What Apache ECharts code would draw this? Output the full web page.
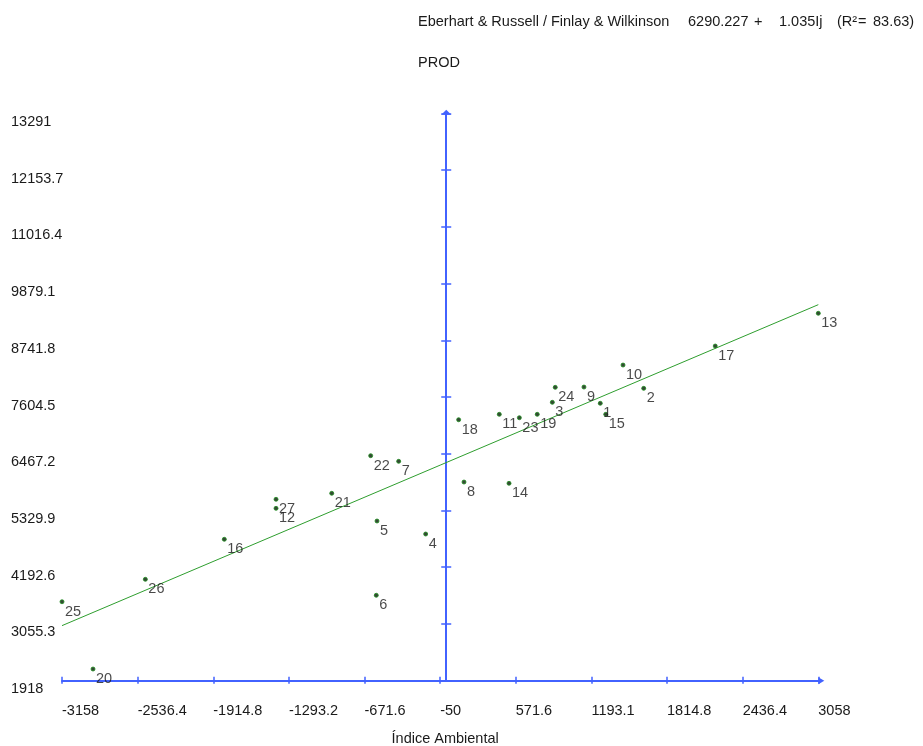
<!DOCTYPE html>
<html>
<head>
<meta charset="utf-8">
<script src="https://cdn.jsdelivr.net/npm/echarts@6/dist/echarts.min.js"></script>
<style>
html,body{margin:0;padding:0;background:#fff;}
#chart{width:923px;height:746px;}
</style>
</head>
<body>
<div id="chart"></div>
<script>
// Genotype / environment ids
const ids = ['1','2','3','4','5','6','7','8','9','10','11','12','13','14','15','16','17','18','19','20','21','22','23','24','25','26','27'];
// Environmental index (x)
const indexValues = [1266,1623,872,-169,-569,-575,-391,146,1132,1453,436,-1399,3058,516,1311,-1824,2211,102,748,-2903,-941,-621,601,896,-3158,-2473,-1399];
// PROD (y)
const prodValues = [7478,7778,7498,4858,5119,3630,6315,5900,7804,8245,7257,5373,9282,5874,7257,4752,8626,7149,7257,2152,5674,6428,7189,7798,3501,3950,5554];
// Regression line end points (6290.227 + 1.035 Ij)
const lineX = [-3158, 3058];
const lineY = [3021.7, 9455.3];
// Tick labels
const xTickLabels = ['-3158','-2536.4','-1914.8','-1293.2','-671.6','-50','571.6','1193.1','1814.8','2436.4','3058'];
const yTickLabels = ['1918','3055.3','4192.6','5329.9','6467.2','7604.5','8741.8','9879.1','11016.4','12153.7','13291'];

const xTicks = xTickLabels.map(Number);
const yTicks = yTickLabels.map(Number);
const xMin = xTicks[0], xMax = xTicks[xTicks.length-1];
const yMin = yTicks[0], yMax = yTicks[yTicks.length-1];

const FONT = 'Liberation Sans, Arial, sans-serif';
const FS = 14.5;
const BLUE = '#4262ff';
const TXT = '#1a1a1a';

const scatterData = indexValues.map((x, i) => ({ name: ids[i], value: [x, prodValues[i]] }));
const lineData = lineX.map((x, i) => [x, lineY[i]]);

function fmt(labels, ticks) {
  return function (v) {
    let best = 0, d = Infinity;
    ticks.forEach((t, i) => { const dd = Math.abs(t - v); if (dd < d) { d = dd; best = i; } });
    return labels[best];
  };
}

const hdr = (text, left, top) => ({ type: 'text', left: left, top: top, style: { text: text, fill: TXT, font: FS + 'px ' + FONT } });

const chart = echarts.init(document.getElementById('chart'), null, { renderer: 'canvas' });
chart.setOption({
  animation: false,
  backgroundColor: '#fff',
  textStyle: { fontFamily: FONT },
  grid: { left: 62, right: 104.7, top: 113.3, bottom: 65.3, containLabel: false, outerBoundsMode: 'none' },
  graphic: [
    hdr('Eberhart & Russell / Finlay & Wilkinson', 418, 14),
    hdr('6290.227', 688, 14),
    hdr('+', 754, 14),
    hdr('1.035Ij', 779, 14),
    hdr('(R²', 837, 14),
    hdr('=', 858, 14),
    hdr('83.63)', 873, 14),
    hdr('PROD', 418, 55)
  ],
  xAxis: [
    {
      type: 'value', min: xMin, max: xMax, position: 'bottom',
      name: 'Índice Ambiental', nameLocation: 'middle', nameGap: 51,
      nameTextStyle: { color: TXT, fontSize: FS, fontFamily: FONT, padding: [0, 0, 0, 10] },
      axisLine: { show: true, onZero: false, symbol: ['none', 'triangle'], symbolSize: [7, 6], symbolOffset: [0, 3], lineStyle: { color: BLUE, width: 2 } },
      axisTick: { show: true, inside: false, length: 3, customValues: xTicks, lineStyle: { color: BLUE, width: 1.5 } },
      axisLabel: { show: true, customValues: xTicks, formatter: fmt(xTickLabels, xTicks), align: 'left', margin: 23, color: TXT, fontSize: FS, fontFamily: FONT, showMinLabel: true, showMaxLabel: true },
      splitLine: { show: false }
    },
    {
      type: 'value', min: xMin, max: xMax, position: 'bottom',
      axisLine: { show: false, onZero: false },
      axisTick: { show: true, inside: true, length: 4, customValues: xTicks, lineStyle: { color: BLUE, width: 1.5 } },
      axisLabel: { show: false },
      splitLine: { show: false }
    }
  ],
  yAxis: [
    {
      type: 'value', min: yMin, max: yMax, position: 'left',
      axisLine: { show: false, onZero: false },
      axisTick: { show: false },
      axisLabel: { show: true, customValues: yTicks, formatter: fmt(yTickLabels, yTicks), align: 'left', verticalAlign: 'top', padding: [1, 0, 0, 0], margin: 51, color: TXT, fontSize: FS, fontFamily: FONT, showMinLabel: true, showMaxLabel: true },
      splitLine: { show: false }
    },
    {
      type: 'value', min: yMin, max: yMax, position: 'left',
      axisLine: { show: true, onZero: true, symbol: ['none', 'triangle'], symbolSize: [10, 5], symbolOffset: [0, 1], lineStyle: { color: BLUE, width: 2 } },
      axisTick: { show: true, inside: false, length: 5, customValues: yTicks, lineStyle: { color: BLUE, width: 1.5 } },
      axisLabel: { show: false },
      splitLine: { show: false }
    },
    {
      type: 'value', min: yMin, max: yMax, position: 'left',
      axisLine: { show: false, onZero: true },
      axisTick: { show: true, inside: true, length: 5, customValues: yTicks, lineStyle: { color: BLUE, width: 1.5 } },
      axisLabel: { show: false },
      splitLine: { show: false }
    }
  ],
  series: [
    {
      type: 'line', xAxisIndex: 0, yAxisIndex: 0, data: lineData,
      symbol: 'none', lineStyle: { color: '#2e9e2e', width: 1 }, z: 2, silent: true
    },
    {
      type: 'scatter', xAxisIndex: 0, yAxisIndex: 0, data: scatterData,
      symbol: 'circle', symbolSize: 4,
      itemStyle: { color: '#021a02', borderColor: '#1f8f1f', borderWidth: 1 },
      label: { show: true, formatter: '{b}', position: [5.5, 5], align: 'left', verticalAlign: 'top', color: TXT, fontSize: FS, fontFamily: FONT },
      z: 3
    }
  ]
});
</script>
</body>
</html>
